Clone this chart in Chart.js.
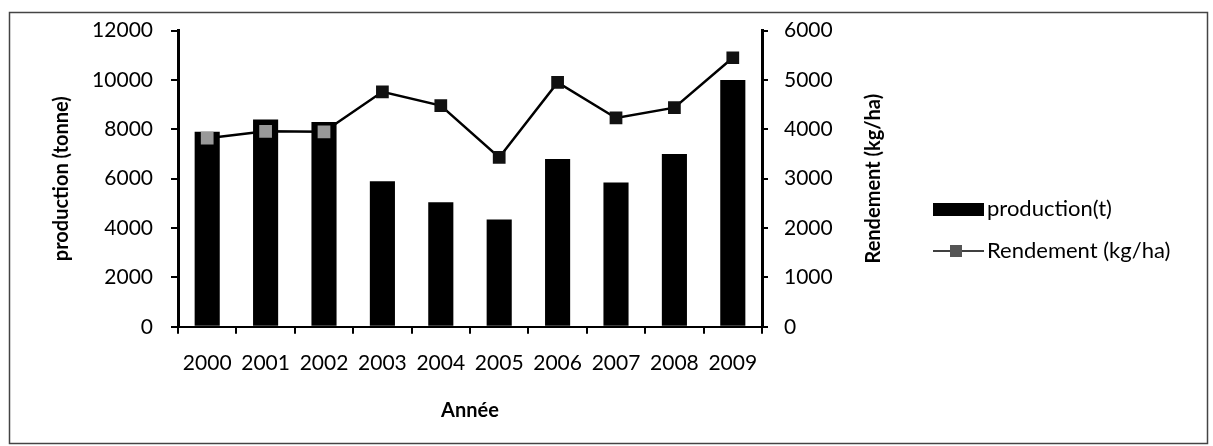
<!DOCTYPE html>
<html>
<head>
<meta charset="utf-8">
<script src="https://cdn.jsdelivr.net/npm/chart.js@4.4.0/dist/chart.umd.min.js"></script>
<style>
  html, body { margin: 0; padding: 0; background: #fff; }
  #wrap { width: 1213px; height: 446px; }
</style>
</head>
<body>
<div id="wrap"><canvas id="prodChart" width="1213" height="446"></canvas></div>
<script>
const annees = ['2000', '2001', '2002', '2003', '2004', '2005', '2006', '2007', '2008', '2009'];
const production = [7900, 8400, 8300, 5900, 5050, 4350, 6800, 5850, 7000, 10000];
const rendement = [3820, 3960, 3950, 4760, 4480, 3430, 4950, 4230, 4440, 5450];
const ticksProduction = [0, 2000, 4000, 6000, 8000, 10000, 12000];
const ticksRendement = [0, 1000, 2000, 3000, 4000, 5000, 6000];
const titreX = 'Année';
const titreY = 'production (tonne)';
const titreY1 = 'Rendement (kg/ha)';

const FONT = 'Lato, "Noto Sans", sans-serif';

// cadre, titre de droite et légende dessinés à la main (style Excel)
const excelLook = {
    id: 'excelLook',
    beforeDraw(chart) {
        const c = chart.ctx;
        c.save();
        c.fillStyle = '#fff';
        c.fillRect(0, 0, chart.width, chart.height);
        c.strokeStyle = '#444';
        c.lineWidth = 1.5;
        c.strokeRect(9.5, 12.5, 1198, 431);
        c.restore();
    },
    afterDraw(chart) {
        const c = chart.ctx;
        const ds = chart.data.datasets;
        const area = chart.chartArea;
        c.save();
        // titre axe droit, lu de bas en haut
        c.font = 'bold 20px ' + FONT;
        c.fillStyle = '#000';
        c.textAlign = 'center';
        c.textBaseline = 'middle';
        c.translate(874, (area.top + area.bottom) / 2);
        c.rotate(-Math.PI / 2);
        c.fillText(titreY1, 0, 0);
        c.restore();

        c.save();
        c.font = '22px ' + FONT;
        c.textBaseline = 'middle';
        c.fillStyle = '#000';
        // barres
        c.fillRect(933, 203, 51, 13);
        c.fillText(ds[1].label, 987, 209);
        // ligne + marqueur
        c.strokeStyle = '#000';
        c.lineWidth = 1.5;
        c.beginPath();
        c.moveTo(933, 251);
        c.lineTo(984, 251);
        c.stroke();
        c.fillStyle = '#555';
        c.fillRect(950, 245, 12, 12);
        c.fillStyle = '#000';
        c.fillText(ds[0].label, 987, 251);
        c.restore();
    }
};

const ctx = document.getElementById('prodChart').getContext('2d');
new Chart(ctx, {
    type: 'bar',
    data: {
        labels: annees,
        datasets: [{
            type: 'line',
            label: 'Rendement (kg/ha)',
            data: rendement,
            yAxisID: 'y1',
            borderColor: '#000',
            borderWidth: 2.5,
            pointStyle: 'rect',
            pointRadius: 9,
            pointBackgroundColor: ['#999', '#999', '#999', '#111', '#111', '#111', '#111', '#111', '#111', '#111'],
            pointBorderWidth: 0,
            tension: 0,
            order: 1
        }, {
            label: 'production(t)',
            data: production,
            yAxisID: 'y',
            backgroundColor: '#000',
            barPercentage: 0.43,
            categoryPercentage: 1,
            order: 2
        }]
    },
    options: {
        responsive: false,
        animation: false,
        layout: { padding: { left: 46, right: 331, top: 28, bottom: 23 } },
        plugins: {
            legend: { display: false },
            tooltip: { enabled: false }
        },
        scales: {
            x: {
                offset: true,
                grid: { display: true, drawOnChartArea: false, offset: true, color: '#000', tickLength: 7, lineWidth: 2 },
                border: { display: true, color: '#000', width: 2 },
                ticks: { color: '#000', font: { family: FONT, size: 21 }, padding: 17, maxRotation: 0 },
                title: { display: true, text: titreX, color: '#000', font: { family: FONT, size: 20, weight: 'bold' }, padding: { top: 6, bottom: 0 } }
            },
            y: {
                position: 'left',
                min: 0,
                max: 12000,
                afterBuildTicks: axis => { axis.ticks = ticksProduction.map(v => ({ value: v })); },
                afterFit: axis => { axis.width = 132; },
                grid: { drawOnChartArea: false, color: '#000', tickLength: 7, lineWidth: 2 },
                border: { display: true, color: '#000', width: 3 },
                ticks: { color: '#000', font: { family: FONT, size: 21 }, padding: 18, callback: v => String(v) },
                title: { display: true, text: titreY, color: '#000', font: { family: FONT, size: 20, weight: 'bold' } }
            },
            y1: {
                position: 'right',
                min: 0,
                max: 6000,
                afterBuildTicks: axis => { axis.ticks = ticksRendement.map(v => ({ value: v })); },
                afterFit: axis => { axis.width = 120; },
                grid: { drawOnChartArea: false, color: '#000', tickLength: 6, lineWidth: 2 },
                border: { display: true, color: '#000', width: 3 },
                ticks: { color: '#000', font: { family: FONT, size: 21 }, padding: 16, callback: v => String(v) },
                title: { display: false }
            }
        }
    },
    plugins: [excelLook]
});
</script>
</body>
</html>
